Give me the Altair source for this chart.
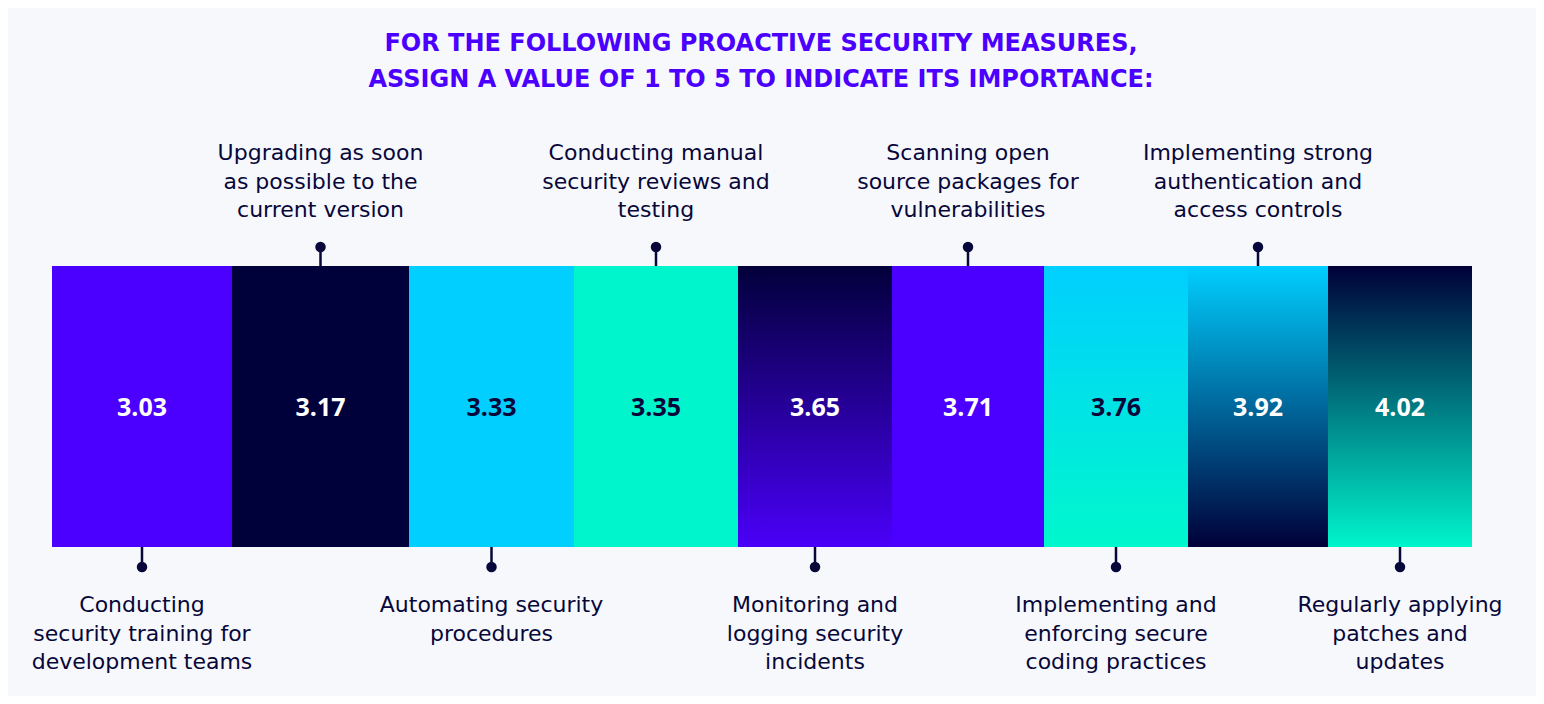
import altair as alt
import pandas as pd

# ---- data ----
title_lines = [
    "FOR THE FOLLOWING PROACTIVE SECURITY MEASURES,",
    "ASSIGN A VALUE OF 1 TO 5 TO INDICATE ITS IMPORTANCE:",
]
categories = [
    "Conducting\nsecurity training for\ndevelopment teams",
    "Upgrading as soon\nas possible to the\ncurrent version",
    "Automating security\nprocedures",
    "Conducting manual\nsecurity reviews and\ntesting",
    "Monitoring and\nlogging security\nincidents",
    "Scanning open\nsource packages for\nvulnerabilities",
    "Implementing and\nenforcing secure\ncoding practices",
    "Implementing strong\nauthentication and\naccess controls",
    "Regularly applying\npatches and\nupdates",
]
values = [3.03, 3.17, 3.33, 3.35, 3.65, 3.71, 3.76, 3.92, 4.02]
seg_widths = [180, 177, 165, 164, 154, 152, 144, 140, 144]

# ---- styles ----
PURPLE = "#4B00FF"
NAVY = "#00003A"
CYAN = "#00CFFF"
TEAL = "#00F5CD"
TEXT = "#07073A"
BG = "#F7F8FC"
solid_colors = [PURPLE, NAVY, CYAN, TEAL, None, PURPLE, None, None, None]
gradients = {
    4: [("#02003A", 0.0), ("#4A00F8", 1.0)],
    6: [(CYAN, 0.0), ("#00F8CC", 1.0)],
    7: [(CYAN, 0.0), ("#000038", 1.0)],
    8: [("#000038", 0.0), ("#00F5CC", 1.0)],
}
dark_value_text = {2, 3, 6}

df = pd.DataFrame({"label": categories, "value": values, "w": seg_widths})
df["idx"] = range(len(df))
df["start"] = df["w"].cumsum() - df["w"]
df["end"] = df["w"].cumsum()
df["mid"] = (df["start"] + df["end"]) / 2
df["side"] = ["bottom" if i % 2 == 0 else "top" for i in df["idx"]]
df["vtxt"] = df["value"].map(lambda v: f"{v:.2f}")
df["dark"] = [i in dark_value_text for i in df["idx"]]

total = float(sum(seg_widths))
xs = alt.Scale(domain=[0, total], range=[44, 1464])

base = alt.Chart(df)

solid_idx = [i for i, c in enumerate(solid_colors) if c]
solid = base.transform_filter(
    alt.FieldOneOfPredicate(field="idx", oneOf=solid_idx)
).mark_rect().encode(
    x=alt.X("start:Q", scale=xs, axis=None),
    x2="end:Q",
    y=alt.value(258),
    y2=alt.value(539),
    fill=alt.Fill(
        "idx:N",
        scale=alt.Scale(domain=solid_idx, range=[solid_colors[i] for i in solid_idx]),
        legend=None,
    ),
)

grad_layers = []
for i, stops in gradients.items():
    g = alt.Gradient(
        gradient="linear",
        x1=0, y1=0, x2=0, y2=1,
        stops=[alt.GradientStop(color=c, offset=o) for c, o in stops],
    )
    grad_layers.append(
        base.transform_filter(alt.datum.idx == i).mark_rect(fill=g).encode(
            x=alt.X("start:Q", scale=xs, axis=None),
            x2="end:Q",
            y=alt.value(258),
            y2=alt.value(539),
        )
    )

values_text = base.mark_text(
    font="Open Sans", fontSize=25, fontWeight="bold", baseline="middle", align="center"
).encode(
    x=alt.X("mid:Q", scale=xs),
    y=alt.value(400),
    text="vtxt:N",
    color=alt.condition(alt.datum.dark, alt.value(TEXT), alt.value("#FFFFFF")),
)

top = base.transform_filter(alt.datum.side == "top")
bot = base.transform_filter(alt.datum.side == "bottom")

top_rule = top.mark_rule(color=TEXT, strokeWidth=2.5).encode(
    x=alt.X("mid:Q", scale=xs), y=alt.value(240), y2=alt.value(258)
)
bot_rule = bot.mark_rule(color=TEXT, strokeWidth=2.5).encode(
    x=alt.X("mid:Q", scale=xs), y=alt.value(539), y2=alt.value(558)
)
top_dot = top.mark_circle(color=TEXT, opacity=1, size=110).encode(
    x=alt.X("mid:Q", scale=xs), y=alt.value(239)
)
bot_dot = bot.mark_circle(color=TEXT, opacity=1, size=110).encode(
    x=alt.X("mid:Q", scale=xs), y=alt.value(559)
)

LABEL_FONT = "DejaVu Sans"
top_lbl = top.mark_text(
    font=LABEL_FONT, fontSize=22, lineHeight=28.5, lineBreak="\n",
    baseline="middle", align="center", color=TEXT,
).encode(x=alt.X("mid:Q", scale=xs), y=alt.value(145), text="label:N")

bot_lbl = bot.mark_text(
    font=LABEL_FONT, fontSize=22, lineHeight=28.5, lineBreak="\n",
    baseline="middle", align="center", color=TEXT,
).encode(x=alt.X("mid:Q", scale=xs), y=alt.value(597), text="label:N")

title_df = pd.DataFrame({"t": ["\n".join(title_lines)]})
title = alt.Chart(title_df).mark_text(
    font="DejaVu Sans", fontSize=24, fontWeight="bold", lineHeight=36, lineBreak="\n",
    baseline="middle", align="center", color=PURPLE,
).encode(x=alt.value(753), y=alt.value(36), text="t:N")

chart = alt.layer(
    solid, *grad_layers, values_text, top_rule, bot_rule, top_dot, bot_dot, top_lbl, bot_lbl, title
).properties(
    width=1528, height=688,
    autosize=alt.AutoSizeParams(type="none"),
    padding=0,
    background=BG,
).configure_view(stroke=None)

chart.save("out.html", embed_options={"renderer": "svg", "actions": False})
